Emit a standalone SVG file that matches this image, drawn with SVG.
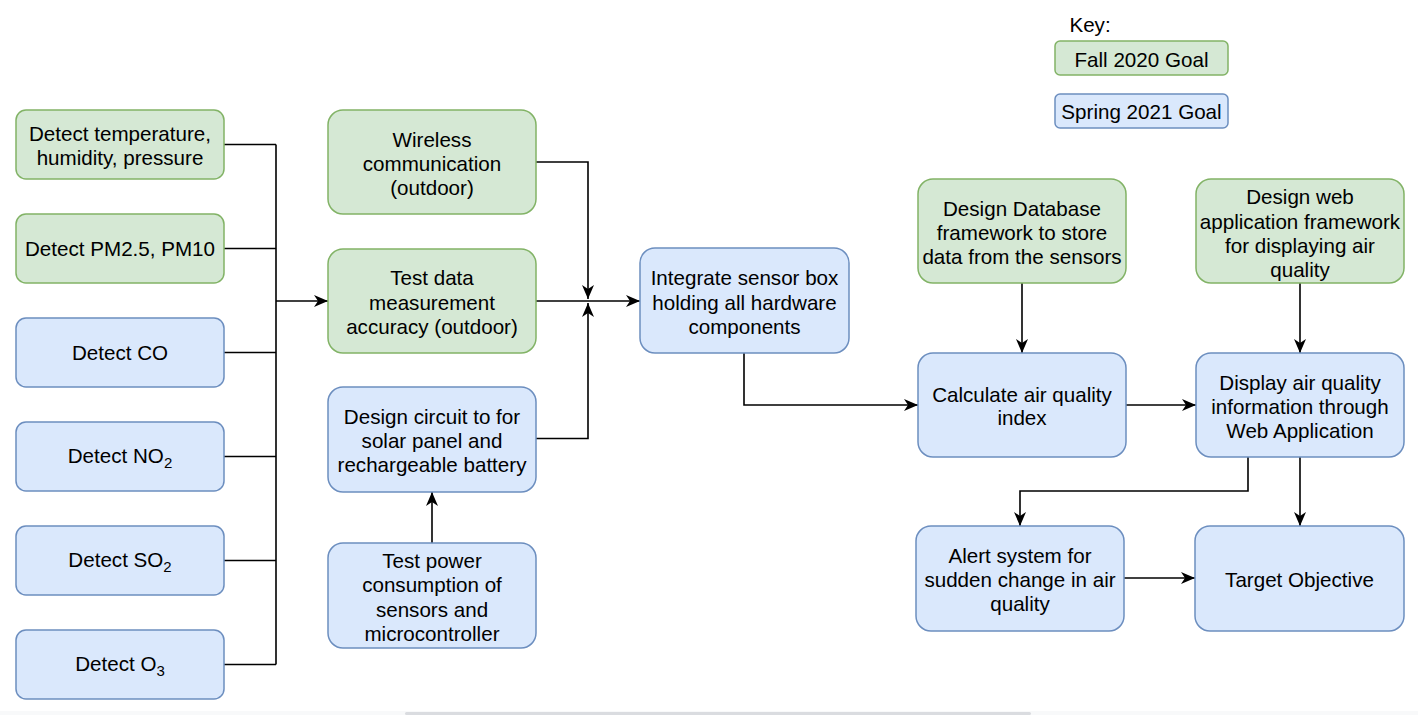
<svg xmlns="http://www.w3.org/2000/svg" width="1418" height="715" viewBox="0 0 1418 715">
<style>
.g{fill:#d5e8d4;stroke:#82b366;stroke-width:1.5}
.b{fill:#dae8fc;stroke:#6c8ebf;stroke-width:1.5}
text{font-family:"Liberation Sans",Arial,sans-serif;font-size:20.6px;fill:#000;text-anchor:middle}
.c{fill:none;stroke:#000;stroke-width:1.6}
.sub{font-size:15px}
</style>
<defs>
<marker id="a" markerUnits="userSpaceOnUse" markerWidth="14" markerHeight="12" refX="14" refY="6" orient="auto" viewBox="0 0 14 12">
<path d="M0,0 L14,6 L0,12 L4,6 z" fill="#000"/>
</marker>
</defs>
<rect width="1418" height="715" fill="#fff"/>
<rect x="0" y="711" width="1418" height="4" fill="#f8f9fa"/>
<rect x="405" y="712" width="626" height="3" rx="1.5" fill="#dadce0"/>

<g id="connectors">
<path class="c" d="M224,144.5H276M224,248.5H276M224,352.5H276M224,456.5H276M224,560.5H276M224,664.5H276M276,144.5V664.5"/>
<path class="c" d="M276,301H328" marker-end="url(#a)"/>
<path class="c" d="M536,162H588V299" marker-end="url(#a)"/>
<path class="c" d="M536,301H640" marker-end="url(#a)"/>
<path class="c" d="M536,438.5H588V303" marker-end="url(#a)"/>
<path class="c" d="M432,543V492" marker-end="url(#a)"/>
<path class="c" d="M744,353V405H918" marker-end="url(#a)"/>
<path class="c" d="M1022,283V353" marker-end="url(#a)"/>
<path class="c" d="M1300,283V353" marker-end="url(#a)"/>
<path class="c" d="M1126,405H1196" marker-end="url(#a)"/>
<path class="c" d="M1248,457V491H1020V526" marker-end="url(#a)"/>
<path class="c" d="M1300,457V526" marker-end="url(#a)"/>
<path class="c" d="M1124,578H1195" marker-end="url(#a)"/>
</g>

<g id="key">
<text x="1090" y="32">Key:</text>
</g>
<g id="key-fall">
<rect class="g" x="1055" y="41" width="173" height="34" rx="5"/>
<text x="1141.5" y="67">Fall 2020 Goal</text>
</g>
<g id="key-spring">
<rect class="b" x="1055" y="94" width="173" height="34" rx="5"/>
<text x="1141.5" y="119">Spring 2021 Goal</text>
</g>

<g id="n-temp">
<rect class="g" x="16" y="110" width="208" height="69" rx="10"/>
<text x="120" y="141">Detect temperature,</text>
<text x="120" y="165">humidity, pressure</text>
</g>
<g id="n-pm">
<rect class="g" x="16" y="214" width="208" height="69" rx="10"/>
<text x="120" y="256">Detect PM2.5, PM10</text>
</g>
<g id="n-co">
<rect class="b" x="16" y="318" width="208" height="69" rx="10"/>
<text x="120" y="360">Detect CO</text>
</g>
<g id="n-no2">
<rect class="b" x="16" y="422" width="208" height="69" rx="10"/>
<text x="120" y="463">Detect NO<tspan class="sub" dy="5">2</tspan></text>
</g>
<g id="n-so2">
<rect class="b" x="16" y="526" width="208" height="69" rx="10"/>
<text x="120" y="567">Detect SO<tspan class="sub" dy="5">2</tspan></text>
</g>
<g id="n-o3">
<rect class="b" x="16" y="630" width="208" height="69" rx="10"/>
<text x="120" y="671">Detect O<tspan class="sub" dy="5">3</tspan></text>
</g>

<g id="n-wireless">
<rect class="g" x="328" y="110" width="208" height="104" rx="15"/>
<text x="432" y="147">Wireless</text>
<text x="432" y="171">communication</text>
<text x="432" y="195">(outdoor)</text>
</g>
<g id="n-testdata">
<rect class="g" x="328" y="249" width="208" height="104" rx="15"/>
<text x="432" y="285">Test data</text>
<text x="432" y="310">measurement</text>
<text x="432" y="334">accuracy (outdoor)</text>
</g>
<g id="n-circuit">
<rect class="b" x="328" y="387" width="208" height="105" rx="15"/>
<text x="432" y="424">Design circuit to for</text>
<text x="432" y="448">solar panel and</text>
<text x="432" y="472">rechargeable battery</text>
</g>
<g id="n-power">
<rect class="b" x="328" y="543" width="208" height="105" rx="15"/>
<text x="432" y="568">Test power</text>
<text x="432" y="592">consumption of</text>
<text x="432" y="617">sensors and</text>
<text x="432" y="641">microcontroller</text>
</g>
<g id="n-integrate">
<rect class="b" x="640" y="248" width="209" height="105" rx="15"/>
<text x="744.5" y="285">Integrate sensor box</text>
<text x="744.5" y="310">holding all hardware</text>
<text x="744.5" y="334">components</text>
</g>
<g id="n-db">
<rect class="g" x="918" y="179" width="208" height="104" rx="15"/>
<text x="1022" y="216">Design Database</text>
<text x="1022" y="240">framework to store</text>
<text x="1022" y="264">data from the sensors</text>
</g>
<g id="n-web">
<rect class="g" x="1196" y="179" width="208" height="104" rx="15"/>
<text x="1300" y="204">Design web</text>
<text x="1300" y="229">application framework</text>
<text x="1300" y="253">for displaying air</text>
<text x="1300" y="277">quality</text>
</g>
<g id="n-aqi">
<rect class="b" x="918" y="353" width="208" height="104" rx="15"/>
<text x="1022" y="402">Calculate air quality</text>
<text x="1022" y="425">index</text>
</g>
<g id="n-display">
<rect class="b" x="1196" y="353" width="208" height="104" rx="15"/>
<text x="1300" y="390">Display air quality</text>
<text x="1300" y="414">information through</text>
<text x="1300" y="438">Web Application</text>
</g>
<g id="n-alert">
<rect class="b" x="916" y="526" width="208" height="105" rx="15"/>
<text x="1020" y="563">Alert system for</text>
<text x="1020" y="587">sudden change in air</text>
<text x="1020" y="611">quality</text>
</g>
<g id="n-target">
<rect class="b" x="1195" y="526" width="209" height="105" rx="15"/>
<text x="1299.5" y="587">Target Objective</text>
</g>
</svg>
